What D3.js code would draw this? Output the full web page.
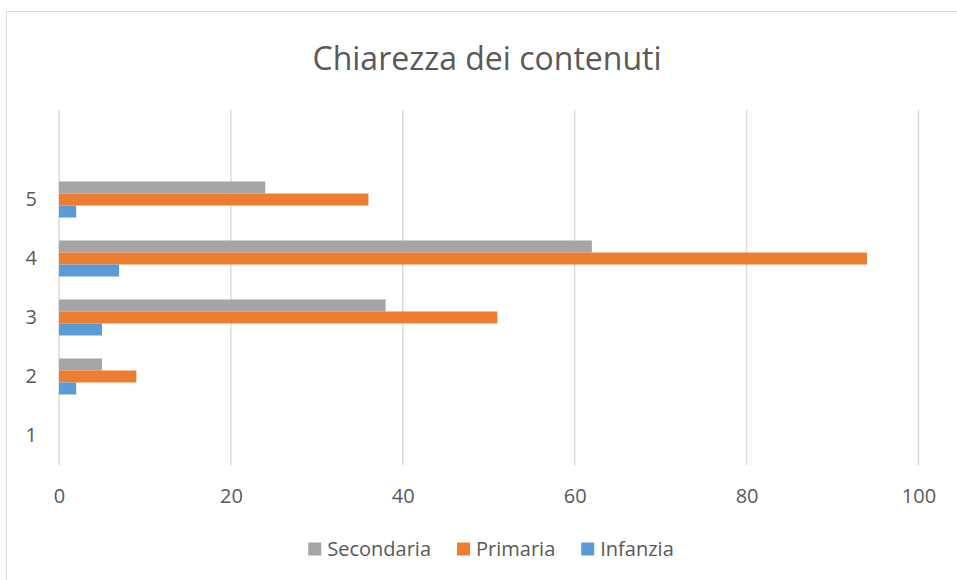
<!DOCTYPE html>
<html>
<head>
<meta charset="utf-8">
<script src="https://cdn.jsdelivr.net/npm/d3@7"></script>
<style>
  html, body { margin: 0; padding: 0; background: #fff; }
  svg { display: block; font-family: "Open Sans", "Noto Sans", sans-serif; }
</style>
</head>
<body>
<div id="chart"></div>
<script>
// Categories bottom-to-top; the top band is an empty category in the source.
const categories = ['1', '2', '3', '4', '5', ''];
const infanzia   = [0, 2, 5, 7, 2, 0];
const primaria   = [0, 9, 51, 94, 36, 0];
const secondaria = [0, 5, 38, 62, 24, 0];
const xTicks = [0, 20, 40, 60, 80, 100];

// Drawn top-to-bottom inside each band, same order as the legend.
const series = [
  { name: 'Secondaria', values: secondaria, color: '#a5a5a5' },
  { name: 'Primaria',   values: primaria,   color: '#ed7d31' },
  { name: 'Infanzia',   values: infanzia,   color: '#5b9bd5' },
];

const width = 957, height = 580;
const plot = { left: 59, right: 918.5, top: 111, bottom: 465 };
const textColor = '#595959';

const svg = d3.select('#chart').append('svg')
  .attr('width', width)
  .attr('height', height);

// chart frame (right/bottom edges run off the picture)
svg.append('rect')
  .attr('x', 6.5).attr('y', 11.5)
  .attr('width', width).attr('height', height)
  .attr('fill', '#fff')
  .attr('stroke', '#d9d9d9')
  .attr('stroke-width', 1);

svg.append('text')
  .attr('x', 487).attr('y', 70)
  .attr('text-anchor', 'middle')
  .attr('font-size', 32)
  .attr('fill', textColor)
  .text('Chiarezza dei contenuti');

const x = d3.scaleLinear().domain([0, 100]).range([plot.left, plot.right]);
const y = d3.scaleBand()
  .domain(categories)
  .range([plot.bottom, plot.top])
  .paddingInner(0.39)
  .paddingOuter(0.195);
const ySub = d3.scaleBand()
  .domain(series.map(s => s.name))
  .range([0, y.bandwidth()]);

// vertical gridlines
svg.append('g')
  .selectAll('line')
  .data(xTicks)
  .join('line')
  .attr('x1', d => x(d)).attr('x2', d => x(d))
  .attr('y1', plot.top - 1).attr('y2', plot.bottom)
  .attr('stroke', '#d9d9d9')
  .attr('stroke-width', 1.4);

// bars
const bandG = svg.append('g')
  .selectAll('g')
  .data(categories.map((c, i) => ({ c, i })))
  .join('g')
  .attr('transform', d => `translate(0,${y(d.c)})`);

bandG.selectAll('rect')
  .data(d => series.map(s => ({ s, v: s.values[d.i] })))
  .join('rect')
  .attr('x', x(0))
  .attr('y', d => ySub(d.s.name))
  .attr('width', d => x(d.v) - x(0))
  .attr('height', ySub.bandwidth())
  .attr('fill', d => d.s.color);

// x axis labels
const xAxis = svg.append('g')
  .attr('transform', `translate(0,${plot.bottom})`)
  .call(d3.axisBottom(x).tickValues(xTicks).tickSize(0).tickPadding(0));
xAxis.select('.domain').remove();
xAxis.selectAll('text')
  .attr('y', 38)
  .attr('dy', 0)
  .attr('font-size', 20)
  .attr('font-family', '"Open Sans", sans-serif')
  .attr('fill', textColor);

// y axis labels
const yAxis = svg.append('g')
  .attr('transform', `translate(${plot.left},0)`)
  .call(d3.axisLeft(y).tickSize(0).tickPadding(22));
yAxis.select('.domain').remove();
yAxis.selectAll('text')
  .attr('font-size', 20)
  .attr('font-family', '"Open Sans", sans-serif')
  .attr('fill', textColor);

// legend, centred under the plot
const legend = svg.append('g');
const items = legend.selectAll('g')
  .data(series)
  .join('g');
items.append('rect')
  .attr('width', 13).attr('height', 13)
  .attr('y', -13)
  .attr('fill', d => d.color);
items.append('text')
  .attr('x', 19)
  .attr('font-size', 20)
  .attr('fill', textColor)
  .text(d => d.name);

let cx = 0;
items.each(function () {
  const g = d3.select(this);
  g.attr('transform', `translate(${cx},0)`);
  cx += 19 + g.select('text').node().getComputedTextLength() + 26;
});
const legendW = cx - 26;
legend.attr('transform', `translate(${491 - legendW / 2},555.5)`);
</script>
</body>
</html>
